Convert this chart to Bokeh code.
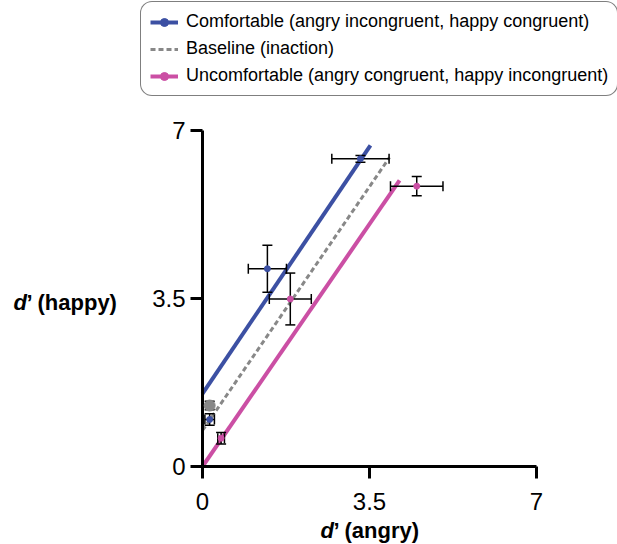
from bokeh.plotting import figure
from bokeh.models import (ColumnDataSource, Whisker, TeeHead, Legend, LegendItem,
                          Label, Range1d, FixedTicker)
from bokeh.embed import file_html
from bokeh.resources import INLINE

# Sensitivity (d') for angry vs. happy faces, per condition
angry_comfortable = [0.15, 1.36, 3.31]
happy_comfortable = [0.98, 4.12, 6.41]
angry_comfortable_err = [0.10, 0.40, 0.60]
happy_comfortable_err = [0.12, 0.49, 0.07]

angry_uncomfortable = [0.39, 1.84, 4.49]
happy_uncomfortable = [0.59, 3.49, 5.84]
angry_uncomfortable_err = [0.07, 0.44, 0.55]
happy_uncomfortable_err = [0.12, 0.54, 0.20]

angry_baseline = [0.15]
happy_baseline = [1.27]
happy_baseline_err = [0.09]

# Fitted lines (start / end points)
fit_comfortable_x = [0.0, 3.52]
fit_comfortable_y = [1.52, 6.69]
fit_baseline_x = [0.0, 3.92]
fit_baseline_y = [0.75, 6.44]
fit_uncomfortable_x = [0.0, 4.13]
fit_uncomfortable_y = [0.0, 5.96]

axis_ticks = [0, 3.5, 7]
tick_labels = {0: "0", 3.5: "3.5", 7: "7"}

legend_labels = [
    "Comfortable (angry incongruent, happy congruent)",
    "Baseline (inaction)",
    "Uncomfortable (angry congruent, happy incongruent)",
]

BLUE = "#3C50A3"
MAGENTA = "#CB4FA4"
GRAY = "#888888"
FONT = "Liberation Sans"

# Canvas and the pixel box of the 0..7 axes inside it
W, H = 617, 544
AX_LEFT, AX_RIGHT, AX_TOP, AX_BOTTOM = 202, 536, 130, 466
AX_MAX = 7.0
sx = (AX_RIGHT - AX_LEFT) / AX_MAX
sy = (AX_BOTTOM - AX_TOP) / AX_MAX
x_range = Range1d(-AX_LEFT / sx, (W - AX_LEFT) / sx)
y_range = Range1d(-(H - AX_BOTTOM) / sy, AX_BOTTOM / sy)

p = figure(width=W, height=H, output_backend="svg", toolbar_location=None,
           x_range=x_range, y_range=y_range,
           min_border=0, min_border_left=0, min_border_right=0,
           min_border_top=0, min_border_bottom=0)
p.outline_line_color = None
p.grid.visible = False
p.background_fill_color = "white"
p.border_fill_color = "white"

for ax in (p.xaxis[0], p.yaxis[0]):
    ax.fixed_location = 0
    ax.bounds = (0, AX_MAX)
    ax.ticker = FixedTicker(ticks=axis_ticks)
    ax.major_label_overrides = tick_labels
    ax.axis_line_width = 3
    ax.axis_line_color = "black"
    ax.major_tick_line_width = 3
    ax.major_tick_line_color = "black"
    ax.major_tick_out = 12
    ax.major_tick_in = 0
    ax.minor_tick_line_color = None
    ax.major_label_text_font = FONT
    ax.major_label_text_font_size = "24px"
    ax.major_label_text_color = "black"
p.xaxis[0].major_label_standoff = 14
p.yaxis[0].major_label_standoff = 5

# Fitted lines
r_comf_line = p.line(fit_comfortable_x, fit_comfortable_y, line_color=BLUE, line_width=4)
r_base_line = p.line(fit_baseline_x, fit_baseline_y, line_color=GRAY, line_width=3,
                     line_dash="5 3")
r_unc_line = p.line(fit_uncomfortable_x, fit_uncomfortable_y, line_color=MAGENTA, line_width=4)


def error_bars(xs, ys, xerr, yerr):
    src = ColumnDataSource(dict(
        x=xs, y=ys,
        x_lo=[a - e for a, e in zip(xs, xerr)], x_hi=[a + e for a, e in zip(xs, xerr)],
        y_lo=[a - e for a, e in zip(ys, yerr)], y_hi=[a + e for a, e in zip(ys, yerr)],
    ))

    def head():
        return TeeHead(size=10, line_width=1.5, line_color="black")

    if any(e > 0 for e in xerr):
        p.add_layout(Whisker(source=src, base="y", lower="x_lo", upper="x_hi",
                             dimension="width", line_width=1.5, line_color="black",
                             upper_head=head(), lower_head=head(), level="annotation"))
    p.add_layout(Whisker(source=src, base="x", lower="y_lo", upper="y_hi",
                         dimension="height", line_width=1.5, line_color="black",
                         upper_head=head(), lower_head=head(), level="annotation"))


error_bars(angry_comfortable, happy_comfortable, angry_comfortable_err, happy_comfortable_err)
error_bars(angry_uncomfortable, happy_uncomfortable, angry_uncomfortable_err, happy_uncomfortable_err)
error_bars(angry_baseline, happy_baseline, [0.0], happy_baseline_err)

r_base_pts = p.scatter(angry_baseline, happy_baseline, size=11, fill_color=GRAY,
                       line_color=GRAY, level="overlay")
r_comf_pts = p.scatter(angry_comfortable, happy_comfortable, size=6, fill_color=BLUE,
                       line_color=BLUE, level="overlay")
r_unc_pts = p.scatter(angry_uncomfortable, happy_uncomfortable, size=6, fill_color=MAGENTA,
                      line_color=MAGENTA, level="overlay")

legend = Legend(items=[
    LegendItem(label=legend_labels[0], renderers=[r_comf_line, r_comf_pts]),
    LegendItem(label=legend_labels[1], renderers=[r_base_line]),
    LegendItem(label=legend_labels[2], renderers=[r_unc_line, r_unc_pts]),
], location=(140, H - 96), margin=0, padding=9, spacing=6,
    glyph_width=28, glyph_height=20, label_height=20, label_standoff=8,
    label_text_font=FONT, label_text_font_size="18px", label_text_color="black",
    border_line_color="black", border_line_width=1, border_radius=12,
    background_fill_alpha=1.0)
p.add_layout(legend, "center")

# Axis titles: italic d followed by the bold remainder
label_style = dict(text_font=FONT, text_font_size="22px", text_font_style="bold",
                   text_color="black", text_baseline="middle", text_align="left")
italic_style = {**label_style, "text_font_style": "bold italic"}
p.add_layout(Label(x=0, y=3.5, x_offset=-189, y_offset=-4, text="d", **italic_style))
p.add_layout(Label(x=0, y=3.5, x_offset=-176, y_offset=-4, text="’ (happy)", **label_style))
p.add_layout(Label(x=3.5, y=0, x_offset=-49, y_offset=-64, text="d", **italic_style))
p.add_layout(Label(x=3.5, y=0, x_offset=-36, y_offset=-64, text="’ (angry)", **label_style))

open("out.html", "w").write(file_html(p, INLINE))
